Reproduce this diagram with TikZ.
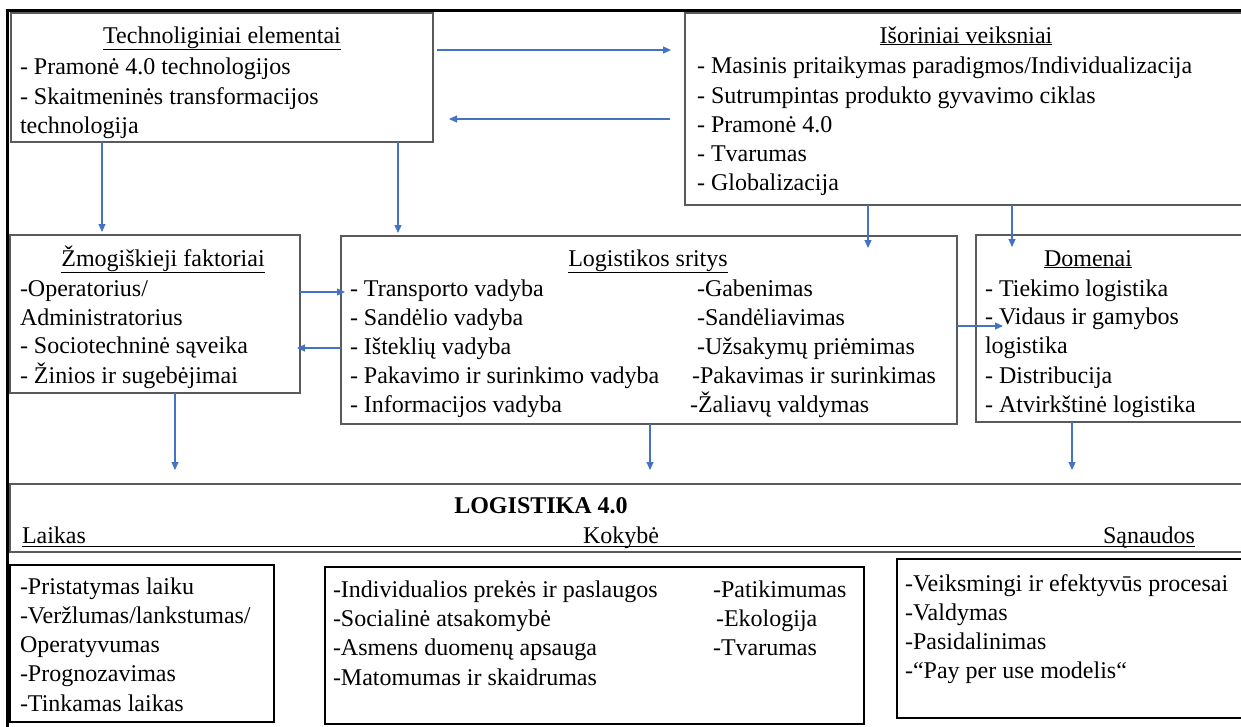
\documentclass[tikz,border=0pt]{standalone}
\usepackage{fontspec}
\setmainfont{Liberation Serif}
\usetikzlibrary{arrows.meta}
\definecolor{arrowblue}{RGB}{68,114,196}
\definecolor{boxgray}{RGB}{90,90,90}
\begin{document}
\begin{tikzpicture}[x=1pt,y=-1pt,
  box/.style={draw=boxgray,line width=1.3pt,inner sep=0pt,outer sep=0pt,anchor=north west},
  boldbox/.style={draw=black,line width=2pt,inner sep=0pt,outer sep=0pt,anchor=north west},
  txt/.style={inner sep=0pt,outer sep=0pt,anchor=base west,font=\fontsize{24}{28}\selectfont},
  ttl/.style={inner sep=0pt,outer sep=0pt,anchor=base,font=\fontsize{24}{28}\selectfont},
  arr/.style={draw=arrowblue,line width=1.1pt,-{Triangle[length=8pt,width=7pt]}}]
\fill[white] (0,0) rectangle (1241,726);
\useasboundingbox (0,0) rectangle (1241,726);
\clip (0,0) rectangle (1241,726);

% outer frame
\draw[line width=3pt] (7,728) -- (7,10) -- (1245,10);

% boxes
\node[box,minimum width=422pt,minimum height=129pt] (T) at (11,13) {};
\node[box,minimum width=580pt,minimum height=192pt] (I) at (685,13) {};
\node[box,minimum width=290pt,minimum height=158pt] (Z) at (10,235) {};
\node[box,minimum width=616pt,minimum height=188pt] (L) at (341,236) {};
\node[box,minimum width=290pt,minimum height=187pt] (D) at (976,235) {};
\node[box,minimum width=1260pt,minimum height=68pt] (G) at (10,484) {};
\node[boldbox,minimum width=264pt,minimum height=157pt] (B1) at (10,565) {};
\node[boldbox,minimum width=539pt,minimum height=157pt] (B2) at (325,567) {};
\node[boldbox,minimum width=360pt,minimum height=159pt] (B3) at (897,559) {};

% Technoliginiai elementai
\node[ttl] (t0) at (222,43) {\underline{Technoliginiai elementai}};
\node[txt] (t1) at (20,74) {- Pramonė 4.0 technologijos};
\node[txt] (t2) at (20,104) {- Skaitmeninės transformacijos};
\node[txt] (t3) at (20,133) {technologija};

% Išoriniai veiksniai
\node[ttl] (i0) at (966,43) {\underline{Išoriniai veiksniai}};
\node[txt] (i1) at (697,73) {- Masinis pritaikymas paradigmos/Individualizacija};
\node[txt] (i2) at (697,103) {- Sutrumpintas produkto gyvavimo ciklas};
\node[txt] (i3) at (697,132) {- Pramonė 4.0};
\node[txt] (i4) at (697,161) {- Tvarumas};
\node[txt] (i5) at (697,190) {- Globalizacija};

% Žmogiškieji faktoriai
\node[ttl] (z0) at (163,266) {\underline{Žmogiškieji faktoriai}};
\node[txt] (z1) at (20,296) {-Operatorius/};
\node[txt] (z2) at (20,325) {Administratorius};
\node[txt] (z3) at (20,353) {- Sociotechninė sąveika};
\node[txt] (z4) at (20,383) {- Žinios ir sugebėjimai};

% Logistikos sritys
\node[ttl] (l0) at (648,266) {\underline{Logistikos sritys}};
\node[txt] (l1) at (350,296) {- Transporto vadyba};
\node[txt] (l2) at (350,325) {- Sandėlio vadyba};
\node[txt] (l3) at (350,354) {- Išteklių vadyba};
\node[txt] (l4) at (350,383) {- Pakavimo ir surinkimo vadyba};
\node[txt] (l5) at (350,412) {- Informacijos vadyba};
\node[txt] (r1) at (697,296) {-Gabenimas};
\node[txt] (r2) at (697,325) {-Sandėliavimas};
\node[txt] (r3) at (697,354) {-Užsakymų priėmimas};
\node[txt] (r4) at (692,383) {-Pakavimas ir surinkimas};
\node[txt] (r5) at (690,412) {-Žaliavų valdymas};

% Domenai
\node[ttl] (d0) at (1088,266) {\underline{Domenai}};
\node[txt] (d1) at (985,296) {- Tiekimo logistika};
\node[txt] (d2) at (985,324) {- Vidaus ir gamybos};
\node[txt] (d3) at (985,353) {logistika};
\node[txt] (d4) at (985,383) {- Distribucija};
\node[txt] (d5) at (985,412) {- Atvirkštinė logistika};

% LOGISTIKA 4.0
\node[ttl,font=\fontsize{24}{28}\selectfont\bfseries] (g0) at (541,513) {LOGISTIKA 4.0};
\node[txt] (g1) at (22,543) {Laikas};
\node[txt] (g2) at (583,543) {Kokybė};
\node[txt,anchor=base east] (g3) at (1195,543) {Sąnaudos};
\draw[line width=1pt] ([shift={(0,3)}]g1.base west) -- ([shift={(0,3)}]g3.base east);

% Laikas
\node[txt] (a1) at (20,594) {-Pristatymas laiku};
\node[txt] (a2) at (20,623) {-Veržlumas/lankstumas/};
\node[txt] (a3) at (20,652) {Operatyvumas};
\node[txt] (a4) at (20,681) {-Prognozavimas};
\node[txt] (a5) at (20,711) {-Tinkamas laikas};

% Kokybė
\node[txt] (k1) at (333,597) {-Individualios prekės ir paslaugos};
\node[txt] (k2) at (333,626) {-Socialinė atsakomybė};
\node[txt] (k3) at (333,655) {-Asmens duomenų apsauga};
\node[txt] (k4) at (333,685) {-Matomumas ir skaidrumas};
\node[txt] (k5) at (713,597) {-Patikimumas};
\node[txt] (k6) at (716,626) {-Ekologija};
\node[txt] (k7) at (713,655) {-Tvarumas};

% Sąnaudos
\node[txt] (s1) at (905,591) {-Veiksmingi ir efektyvūs procesai};
\node[txt] (s2) at (905,620) {-Valdymas};
\node[txt] (s3) at (905,649) {-Pasidalinimas};
\node[txt] (s4) at (905,678) {-“Pay per use modelis“};

% connectors
\draw[arr] ([shift={(4,37)}]T.north east) -- ([shift={(-14,37)}]I.north west);
\draw[arr] ([shift={(-15,106)}]I.north west) -- ([shift={(16,106)}]T.north east);
\draw[arr] ([xshift=91pt]T.south west) -- ([shift={(92,-3)}]Z.north west);
\draw[arr] ([xshift=387pt]T.south west) -- ([shift={(57,-3)}]L.north west);
\draw[arr] ([xshift=183pt]I.south west) -- ([shift={(527,12)}]L.north west);
\draw[arr] ([xshift=327pt]I.south west) -- ([shift={(36,12)}]D.north west);
\draw[arr] ([shift={(0,57)}]Z.north east) -- ([shift={(4,56)}]L.north west);
\draw[arr] ([shift={(0,112)}]L.north west) -- ([shift={(-3,113)}]Z.north east);
\draw[arr] ([shift={(0,90)}]L.north east) -- ([shift={(27,91)}]D.north west);
\draw[arr] ([xshift=165pt]Z.south west) -- ([shift={(165,-14)}]G.north west);
\draw[arr] ([xshift=309pt]L.south west) -- ([shift={(640,-14)}]G.north west);
\draw[arr] ([xshift=96pt]D.south west) -- ([shift={(1062,-14)}]G.north west);
\end{tikzpicture}
\end{document}
